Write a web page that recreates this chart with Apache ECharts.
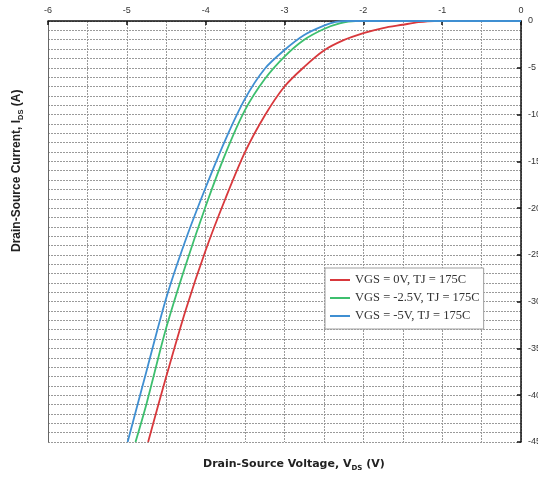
<!DOCTYPE html>
<html>
<head>
<meta charset="utf-8">
<script src="https://cdn.jsdelivr.net/npm/echarts@6/dist/echarts.min.js"></script>
<style>
html,body{margin:0;padding:0;background:#fff;}
#chart{width:538px;height:479px;}
</style>
</head>
<body>
<div id="chart"></div>
<script>
// Axis ticks
const xTicks = [-6, -5, -4, -3, -2, -1, 0];
const yTicks = [0, -5, -10, -15, -20, -25, -30, -35, -40, -45];

// Series names
const seriesNames = ['VGS = 0V, TJ = 175C', 'VGS = -2.5V, TJ = 175C', 'VGS = -5V, TJ = 175C'];

// VGS = 0V (red): drain-source voltage (V) and current (A)
const redV = [-4.73, -4.5, -4.25, -4.0, -3.75, -3.5, -3.25, -3.0, -2.75, -2.5, -2.25, -2.0, -1.75, -1.5, -1.3, -1.1, -0.55, 0];
const redI = [-45, -38.0, -30.8, -24.5, -19.0, -14.0, -10.1, -7.0, -4.9, -3.15, -2.05, -1.3, -0.75, -0.4, -0.13, 0, 0, 0];

// VGS = -2.5V (green)
const greenV = [-4.89, -4.75, -4.5, -4.25, -4.0, -3.75, -3.5, -3.25, -3.0, -2.75, -2.5, -2.3, -2.1, -1.4, -0.7, 0];
const greenI = [-45, -40.9, -32.8, -26.0, -19.8, -14.2, -9.5, -6.2, -3.8, -2.0, -0.85, -0.25, 0, 0, 0, 0];

// VGS = -5V (blue)
const blueV = [-4.99, -4.75, -4.5, -4.25, -4.0, -3.75, -3.5, -3.25, -3.0, -2.75, -2.5, -2.35, -2.2, -1.5, -0.75, 0];
const blueI = [-45, -37.4, -29.6, -23.3, -17.8, -12.7, -8.3, -5.1, -3.1, -1.5, -0.5, -0.1, 0, 0, 0, 0];

const colors = ['#d8383c', '#3dbf6e', '#3f8fd2'];

function pairs(xs, ys) { return xs.map((x, i) => [x, ys[i]]); }

const chart = echarts.init(document.getElementById('chart'), null, {renderer: 'canvas'});
const gridLine = {show: true, lineStyle: {color: '#9a9a9a', type: [2, 1], width: 1}};
const option = {
  animation: false,
  backgroundColor: '#ffffff',
  grid: {left: 48, right: 17, top: 21, bottom: 37, show: false, containLabel: false, outerBoundsMode: 'none'},
  xAxis: {
    type: 'value', position: 'top', min: xTicks[0], max: xTicks[xTicks.length - 1], interval: 1,
    axisLine: {show: true, onZero: false, lineStyle: {color: '#111', width: 1.5}},
    axisTick: {show: true, inside: true, length: 4, lineStyle: {color: '#111', width: 1.5}},
    axisLabel: {fontFamily: 'Liberation Sans', fontSize: 9, color: '#333', margin: 6},
    splitLine: gridLine,
    minorTick: {show: false, splitNumber: 2},
    minorSplitLine: gridLine
  },
  yAxis: [{
    type: 'value', position: 'right', min: yTicks[yTicks.length - 1], max: yTicks[0], interval: 5,
    axisLine: {show: true, onZero: false, lineStyle: {color: '#111', width: 1.5}},
    axisTick: {show: true, inside: true, length: 4, lineStyle: {color: '#111', width: 1.5}},
    axisLabel: {fontFamily: 'Liberation Sans', fontSize: 9, color: '#333', margin: 7},
    splitLine: gridLine,
    minorTick: {show: false, splitNumber: 5},
    minorSplitLine: gridLine
  }, {
    type: 'value', position: 'left', min: yTicks[yTicks.length - 1], max: yTicks[0], interval: 5,
    axisLine: {show: true, onZero: false, lineStyle: {color: '#666', width: 1}},
    axisTick: {show: false}, axisLabel: {show: false}, splitLine: {show: false}
  }],
  legend: {
    orient: 'vertical', left: 325, top: 268,
    backgroundColor: '#ffffff', borderColor: '#a0a0a0', borderWidth: 1,
    padding: [5, 4, 6, 5], itemGap: 4, itemWidth: 20, itemHeight: 2,
    icon: 'rect',
    textStyle: {fontFamily: 'Liberation Serif', fontSize: 12.5, color: '#333', lineHeight: 14},
    data: seriesNames
  },
  series: [
    {name: seriesNames[0], type: 'line', data: pairs(redV, redI), smooth: 0.3, showSymbol: false, lineStyle: {color: colors[0], width: 1.8}, itemStyle: {color: colors[0]}, clip: true},
    {name: seriesNames[1], type: 'line', data: pairs(greenV, greenI), smooth: 0.3, showSymbol: false, lineStyle: {color: colors[1], width: 1.8}, itemStyle: {color: colors[1]}, clip: true},
    {name: seriesNames[2], type: 'line', data: pairs(blueV, blueI), smooth: 0.3, showSymbol: false, lineStyle: {color: colors[2], width: 1.8}, itemStyle: {color: colors[2]}, clip: true}
  ],
  graphic: [
    {
      type: 'text', left: 203, top: 459,
      style: {
        text: '{a|Drain-Source Voltage, V}{s|DS}{a| (V)}',
        rich: {
          a: {fontFamily: 'DejaVu Sans', fontSize: 11, fontWeight: 'bold', fill: '#222', verticalAlign: 'bottom'},
          s: {fontFamily: 'DejaVu Sans', fontSize: 7, fontWeight: 'bold', fill: '#222', verticalAlign: 'bottom', padding: [0, 0, -2, 0]}
        }
      }
    },
    {
      type: 'text', x: 11, y: 252, rotation: Math.PI / 2,
      style: {
        text: '{a|Drain-Source Current, I}{s|DS}{a| (A)}',
        rich: {
          a: {fontFamily: 'Liberation Sans', fontSize: 12, fontWeight: 'bold', fill: '#222', verticalAlign: 'bottom'},
          s: {fontFamily: 'Liberation Sans', fontSize: 7.5, fontWeight: 'bold', fill: '#222', verticalAlign: 'bottom', padding: [0, 0, -2, 0]}
        }
      }
    }
  ]
};
chart.setOption(option);
</script>
</body>
</html>
